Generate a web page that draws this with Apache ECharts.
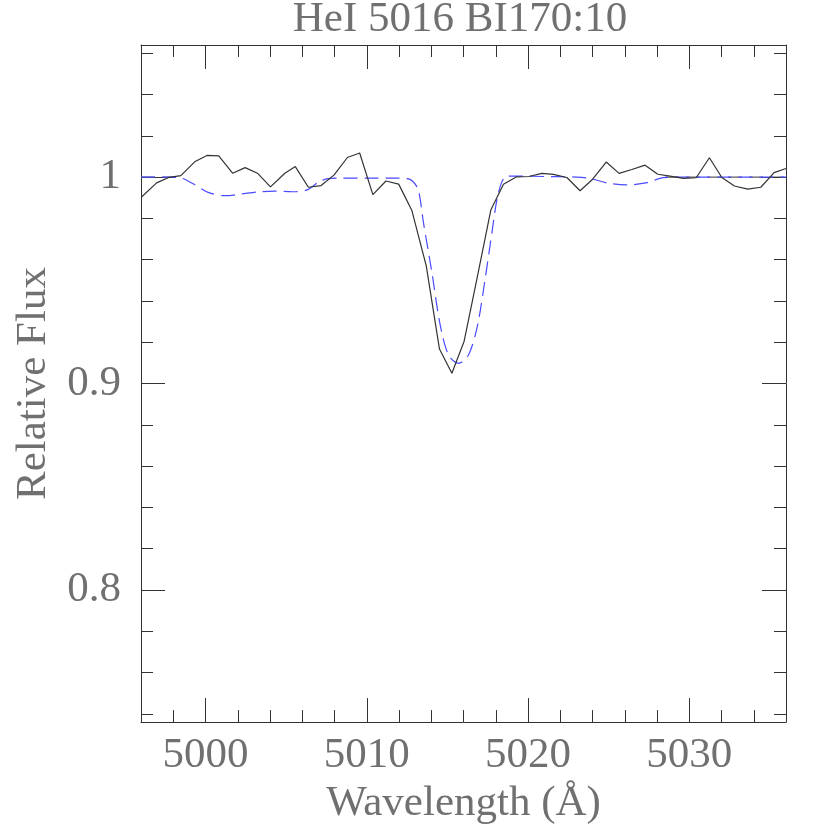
<!DOCTYPE html>
<html>
<head>
<meta charset="utf-8">
<title>HeI 5016 BI170:10</title>
<script src="https://cdn.jsdelivr.net/npm/echarts@6/dist/echarts.min.js"></script>
<style>
  html, body { margin: 0; padding: 0; background: #fff; }
  #chart { width: 830px; height: 830px; }
</style>
</head>
<body>
<div id="chart"></div>
<script>
// HeI 5016 谱线轮廓 - 观测谱 vs 模型

// ============ 数据 ============
// 观测谱 (黑色实线)
const obsWave = [
  4996.05, 4996.97, 4997.75, 4998.47, 4999.33, 5000.09, 5000.82, 5001.68, 5002.46, 5003.22,
  5004.03, 5004.92, 5005.57, 5006.38, 5007.17, 5007.98, 5008.80, 5009.56, 5010.38, 5011.19,
  5011.98, 5012.80, 5013.69, 5014.51, 5015.28, 5016.04, 5016.87, 5017.70, 5018.48, 5019.27,
  5020.05, 5020.86, 5021.58, 5022.41, 5023.23, 5023.96, 5024.85, 5025.65, 5026.44, 5027.26,
  5028.05, 5028.81, 5029.64, 5030.43, 5031.25, 5032.02, 5032.80, 5033.63, 5034.44, 5035.26,
  5036.00
];
const obsFlux = [
  0.9905, 0.9972, 0.9999, 1.0007, 1.0074, 1.0105, 1.0103, 1.0019, 1.0046, 1.0019,
  0.9953, 1.0019, 1.0051, 0.9951, 0.9959, 1.0011, 1.0095, 1.0117, 0.9915, 0.9981,
  0.9966, 0.9838, 0.9570, 0.9167, 0.9050, 0.9205, 0.9522, 0.9842, 0.9965, 1.0001,
  1.0003, 1.0018, 1.0013, 0.9998, 0.9934, 0.9986, 1.0073, 1.0018, 1.0037, 1.0058,
  1.0014, 1.0005, 0.9994, 0.9997, 1.0094, 0.9998, 0.9957, 0.9942, 0.9951, 1.0022,
  1.0042
];

// 模型谱 (蓝色虚线)
const modelWave = [
  4996.0, 4997.5, 4998.5, 4999.3, 5000.2, 5001.2, 5002.2, 5003.2, 5004.3, 5005.4,
  5006.3, 5007.0, 5007.6, 5008.5, 5010.0, 5011.5, 5012.5, 5012.85, 5013.2, 5013.52,
  5014.04, 5014.56, 5015.07, 5015.69, 5016.31, 5016.87, 5017.34, 5017.76, 5018.07, 5018.38,
  5018.69, 5019.5, 5021.0, 5023.0, 5023.9, 5024.9, 5026.1, 5027.4, 5028.4, 5030.0,
  5036.0
];
const modelFlux = [
  1.0000, 1.0000, 0.9995, 0.9965, 0.9925, 0.9910, 0.9918, 0.9928, 0.9932, 0.9929,
  0.9938, 0.9975, 0.9993, 0.9995, 0.9995, 0.9995, 0.9993, 0.9980, 0.9938, 0.9778,
  0.9538, 0.9282, 0.9138, 0.9098, 0.9138, 0.9282, 0.9506, 0.9730, 0.9890, 0.9977,
  1.0005, 1.0005, 1.0003, 1.0000, 0.9993, 0.9972, 0.9962, 0.9973, 0.9998, 1.0000,
  1.0000
];

// 连续谱 (黑色虚线, 只在两端可见)
const contLeftWave = [4996.0, 4998.6];
const contRightWave = [5028.5, 5036.0];
const contFlux = [1.0, 1.0];

// 刻度
const xMajorTicks = [5000, 5010, 5020, 5030];
const xMinorTicks = [4996, 4998, 5000, 5002, 5004, 5006, 5008, 5010, 5012, 5014, 5016,
  5018, 5020, 5022, 5024, 5026, 5028, 5030, 5032, 5034, 5036];
const yMajorTicks = [0.8, 0.9, 1.0];
const yMinorTicks = [0.74, 0.76, 0.78, 0.80, 0.82, 0.84, 0.86, 0.88, 0.90, 0.92, 0.94,
  0.96, 0.98, 1.00, 1.02, 1.04, 1.06];

const X_MIN = 4996, X_MAX = 5036;
const Y_MIN = 0.736, Y_MAX = 1.064;

const FONT = 'Liberation Serif';
const TEXT_COLOR = '#707070';
const FRAME_COLOR = '#333';

const zip = (a, b) => a.map((v, i) => [v, b[i]]);

// ============ 坐标轴工厂 (主刻度/次刻度分开画, 四边都有) ============
function makeAxis(dir, position, ticks, tickLen, withLabels) {
  const isX = dir === 'x';
  const axis = {
    type: 'value',
    position: position,
    min: isX ? X_MIN : Y_MIN,
    max: isX ? X_MAX : Y_MAX,
    splitLine: { show: false },
    axisLine: { show: tickLen > 12, onZero: false, lineStyle: { color: FRAME_COLOR, width: 1 } },
    axisTick: {
      show: true,
      inside: true,
      length: tickLen,
      customValues: ticks,
      lineStyle: { color: FRAME_COLOR, width: 1 }
    },
    axisLabel: { show: false }
  };
  if (withLabels) {
    axis.axisLabel = {
      show: true,
      customValues: ticks,
      fontFamily: FONT,
      fontSize: 43,
      color: TEXT_COLOR,
      margin: isX ? 12 : 20,
      formatter: v => (isX ? String(v) : (Math.abs(v - 1) < 1e-9 ? '1' : v.toFixed(1)))
    };
  }
  return axis;
}

const xAxes = [
  makeAxis('x', 'bottom', xMajorTicks, 24, true),
  makeAxis('x', 'bottom', xMinorTicks, 12, false),
  makeAxis('x', 'top', xMajorTicks, 24, false),
  makeAxis('x', 'top', xMinorTicks, 12, false)
];
Object.assign(xAxes[0], {
  name: 'Wavelength (Å)',
  nameLocation: 'middle',
  nameGap: 58,
  nameTextStyle: { fontFamily: FONT, fontSize: 43, color: TEXT_COLOR }
});

const yAxes = [
  makeAxis('y', 'left', yMajorTicks, 24, true),
  makeAxis('y', 'left', yMinorTicks, 12, false),
  makeAxis('y', 'right', yMajorTicks, 24, false),
  makeAxis('y', 'right', yMinorTicks, 12, false)
];
Object.assign(yAxes[0], {
  name: 'Relative Flux',
  nameLocation: 'middle',
  nameGap: 86,
  nameTextStyle: { fontFamily: FONT, fontSize: 43, color: TEXT_COLOR }
});

// ============ 图表 ============
const chart = echarts.init(document.getElementById('chart'), null, { renderer: 'canvas' });

chart.setOption({
  backgroundColor: '#fff',
  animation: false,
  title: {
    text: 'HeI 5016 BI170:10',
    left: 460,
    top: -2,
    textAlign: 'center',
    padding: 0,
    textStyle: { fontFamily: FONT, fontSize: 43, fontWeight: 'normal', color: TEXT_COLOR }
  },
  grid: { left: 141, right: 44, top: 45, bottom: 102, containLabel: false },
  xAxis: xAxes,
  yAxis: yAxes,
  series: [
    {
      name: 'continuum-left',
      type: 'line',
      data: zip(contLeftWave, contFlux),
      symbol: 'none',
      lineStyle: { color: '#333', width: 1, type: [14, 7] },
      z: 1
    },
    {
      name: 'continuum-right',
      type: 'line',
      data: zip(contRightWave, contFlux),
      symbol: 'none',
      lineStyle: { color: '#333', width: 1, type: [14, 7] },
      z: 1
    },
    {
      name: 'model',
      type: 'line',
      data: zip(modelWave, modelFlux),
      symbol: 'none',
      smooth: 0.3,
      lineStyle: { color: '#4a4aff', width: 1.2, type: [14, 7] },
      z: 2
    },
    {
      name: 'observed',
      type: 'line',
      data: zip(obsWave, obsFlux),
      symbol: 'none',
      lineStyle: { color: '#333', width: 1.2 },
      z: 3
    }
  ]
});

window.addEventListener('resize', () => chart.resize());
</script>
</body>
</html>
